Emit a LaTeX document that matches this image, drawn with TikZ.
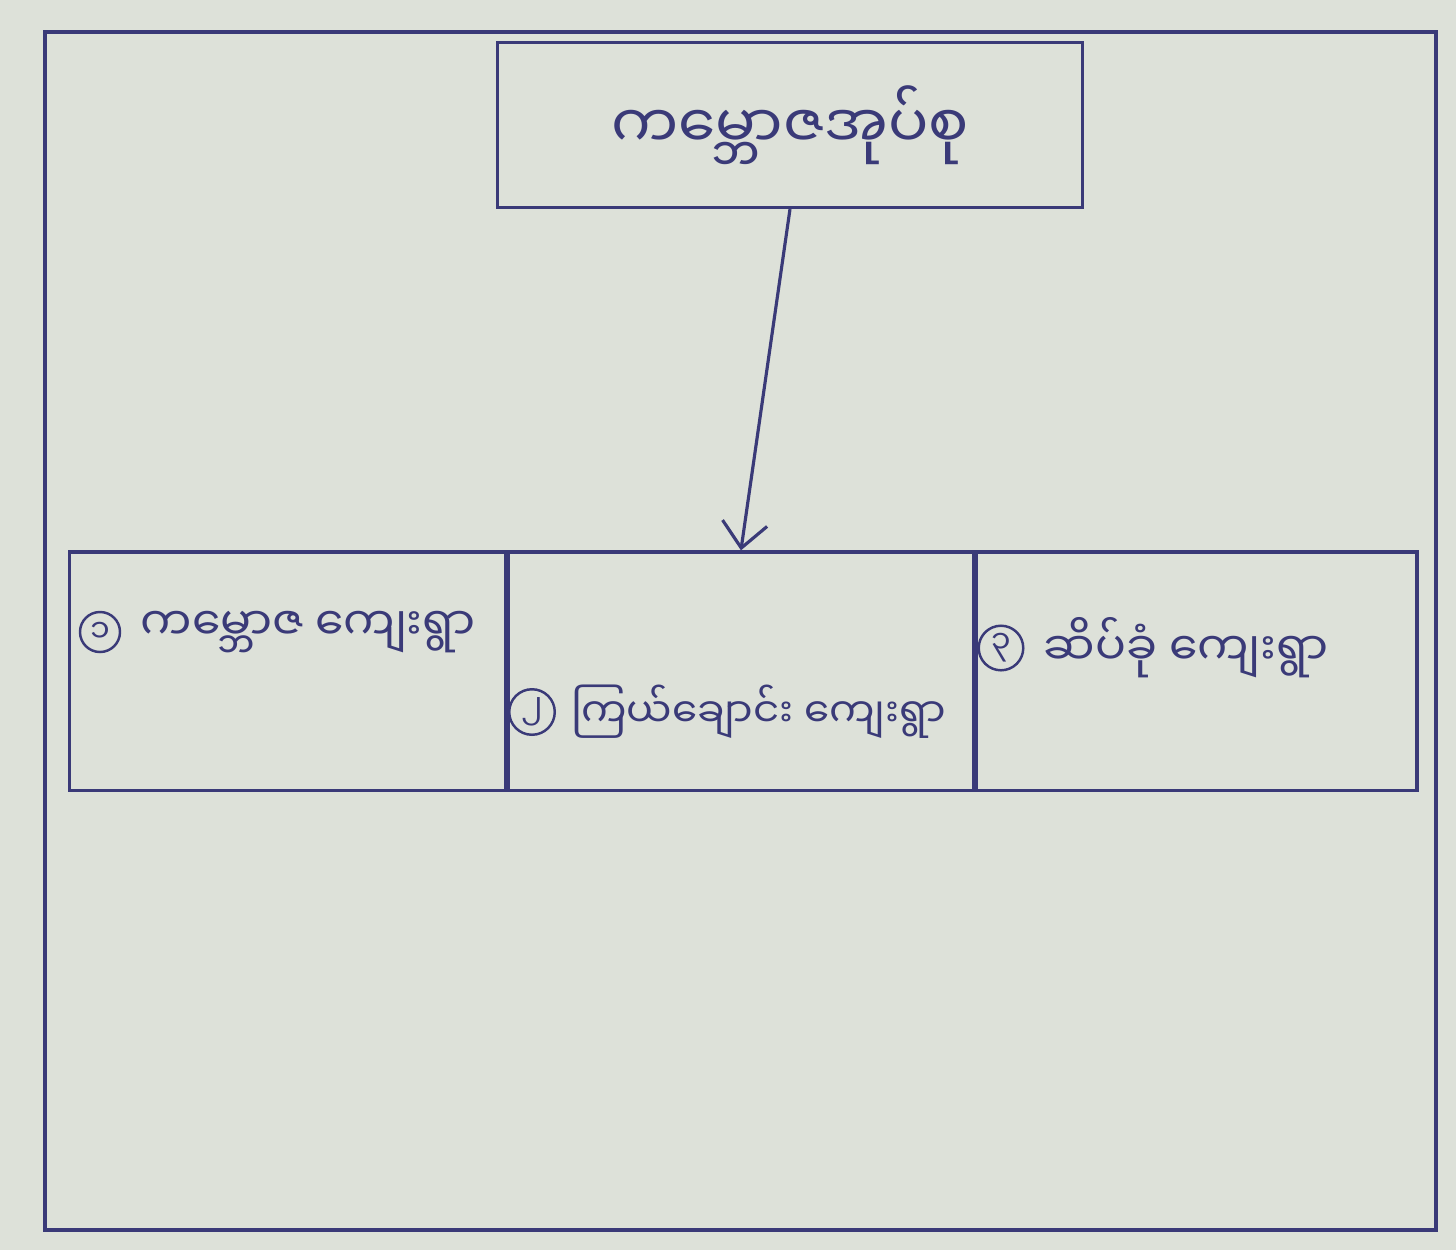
\documentclass[tikz,border=0pt]{standalone}
\usepackage{fontspec}
\newfontfamily\mmfont[Script=Myanmar]{Noto Sans Myanmar UI}
\usetikzlibrary{positioning,arrows.meta}
\definecolor{ink}{RGB}{58,58,120}
\definecolor{paper}{RGB}{221,225,217}

\begin{document}
\begin{tikzpicture}[x=0.01cm,y=-0.01cm,every node/.style={text=ink,font=\mmfont\fontsize{13}{16}\selectfont},box/.style={draw=ink,line width=0.9pt,inner sep=0pt,minimum height=2.38cm},num/.style={draw=ink,line width=0.7pt,circle,inner sep=1pt,minimum size=0.4cm,font=\mmfont\fontsize{9}{10}\selectfont}]
\fill[paper] (0,0) rectangle (1456,1250);
\useasboundingbox (0,0) rectangle (1456,1250);
\draw[ink,line width=0.9pt] (45,32) rectangle (1436,1230);
\node[box,minimum width=5.85cm,minimum height=1.65cm,font=\mmfont\fontsize{17}{20}\selectfont](root) at (790,125) {ကမ္ဘောဇအုပ်စု};
% village boxes
\node[box,minimum width=4.35cm](kamboza) at (287.5,671) {};
\node[box,minimum width=4.65cm,right=0pt of kamboza](kyay) {};
\node[box,minimum width=4.4cm,right=0pt of kyay](seikkhon) {};
\node[num](n1) at (100,632) {၁};
\node[right=2pt of n1](t1) {ကမ္ဘောဇ ကျေးရွာ};
\node[num](n2) at (532,712) {၂};
\node[right=1pt of n2,font=\mmfont\fontsize{11.5}{14}\selectfont](t2) {ကြယ်ချောင်း ကျေးရွာ};
\node[num](n3) at (1001,648) {၃};
\node[right=2pt of n3](t3) {ဆိပ်ခုံ ကျေးရွာ};
\draw[ink,line width=0.9pt,-{Straight Barb[length=2.5mm,width=4.5mm]}] (root.south) -- (kyay.north);
\end{tikzpicture}
\end{document}
